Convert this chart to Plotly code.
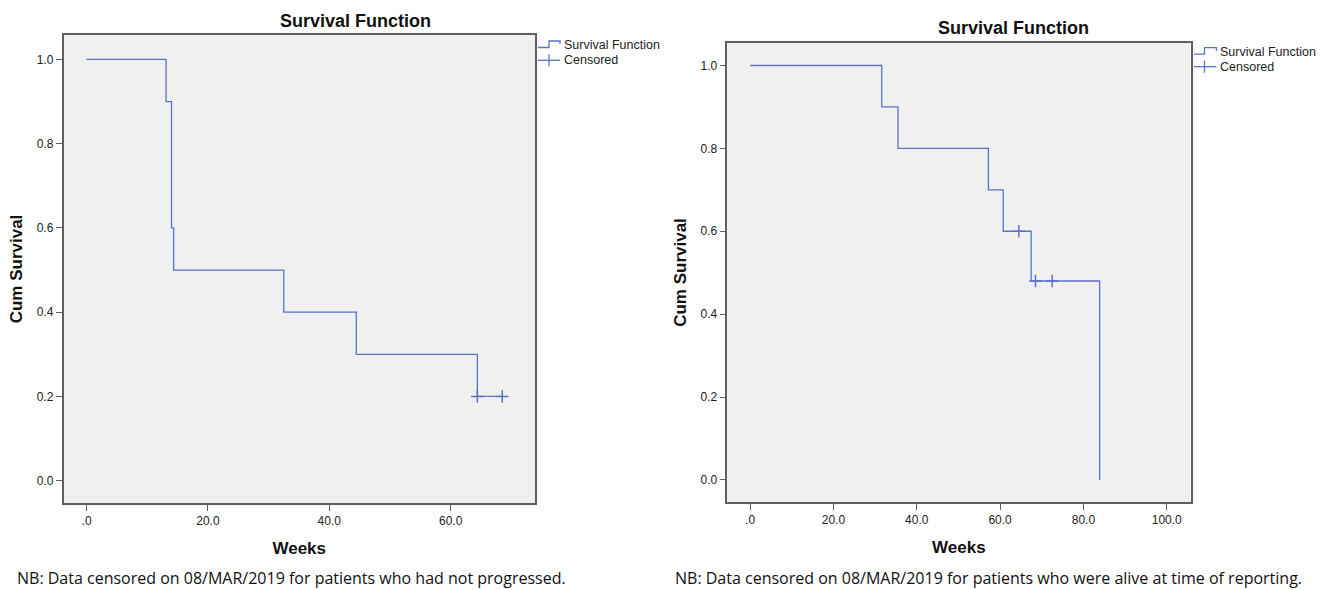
import plotly.graph_objects as go

# ---- data ----
pfs_weeks = [0.0, 13.1, 14.0, 14.35, 32.5, 44.45, 64.4, 68.5]
pfs_surv = [1.0, 0.9, 0.6, 0.5, 0.4, 0.3, 0.2, 0.2]
pfs_cens_weeks = [64.4, 68.5]
pfs_cens_surv = [0.2, 0.2]

os_weeks = [0.0, 31.6, 35.5, 57.2, 60.75, 67.45, 83.9]
os_surv = [1.0, 0.9, 0.8, 0.7, 0.6, 0.48, 0.0]
os_cens_weeks = [64.5, 68.5, 72.5]
os_cens_surv = [0.6, 0.48, 0.48]

pfs_xtickvals = [0, 20, 40, 60]
pfs_xticktext = [".0", "20.0", "40.0", "60.0"]
os_xtickvals = [0, 20, 40, 60, 80, 100]
os_xticktext = [".0", "20.0", "40.0", "60.0", "80.0", "100.0"]
ytickvals = [0.0, 0.2, 0.4, 0.6, 0.8, 1.0]

title_text = "Survival Function"
xtitle = "Weeks"
ytitle = "Cum Survival"
legend_labels = ["Survival Function", "Censored"]
note_left = "NB: Data censored on 08/MAR/2019 for patients who had not progressed."
note_right = "NB: Data censored on 08/MAR/2019 for patients who were alive at time of reporting."

W, H = 1320, 590
LINE = "#5a72c8"
BG = "#f0f0f0"
AX = "#5f5f5f"
FONT = "Liberation Sans, Arial, sans-serif"


def px(x):
    return x / W


def py(y):
    return 1 - y / H


fig = go.Figure()

cross = dict(symbol="cross-thin", size=9, line=dict(color=LINE, width=1.5))

fig.add_trace(go.Scatter(x=pfs_weeks, y=pfs_surv, mode="lines", line_shape="hv",
                         line=dict(color=LINE, width=1.3), name=legend_labels[0],
                         xaxis="x", yaxis="y"))
fig.add_trace(go.Scatter(x=pfs_cens_weeks, y=pfs_cens_surv, mode="markers",
                         marker=cross, name=legend_labels[1], xaxis="x", yaxis="y"))
fig.add_trace(go.Scatter(x=os_weeks, y=os_surv, mode="lines", line_shape="hv",
                         line=dict(color=LINE, width=1.3), name=legend_labels[0],
                         xaxis="x2", yaxis="y2"))
fig.add_trace(go.Scatter(x=os_cens_weeks, y=os_cens_surv, mode="markers",
                         marker=cross, name=legend_labels[1], xaxis="x2", yaxis="y2"))

tickfont = dict(family=FONT, size=12, color="#222222")
titlefont = dict(family=FONT, size=17, color="#111111", weight="bold")

common_x = dict(showgrid=False, zeroline=False, showline=True, mirror=True, linecolor=AX,
                linewidth=1.5, ticks="outside", ticklen=6, tickcolor=AX, tickwidth=1.3,
                tickfont=tickfont, title=dict(text=xtitle, font=titlefont, standoff=15))
common_y = dict(showgrid=False, zeroline=False, showline=True, mirror=True, linecolor=AX,
                linewidth=1.5, ticks="outside", ticklen=6, tickcolor=AX, tickwidth=1.3,
                tickfont=tickfont, tickvals=ytickvals, tickformat=".1f",
                title=dict(text=ytitle, font=titlefont, standoff=10))

annotations = [
    dict(text=f"<b>{title_text}</b>", x=px(355), y=py(21.3), xref="paper", yref="paper",
         showarrow=False, xanchor="center", yanchor="middle",
         font=dict(family=FONT, size=18, color="#111111")),
    dict(text=f"<b>{title_text}</b>", x=px(1013.6), y=py(28.3), xref="paper", yref="paper",
         showarrow=False, xanchor="center", yanchor="middle",
         font=dict(family=FONT, size=18, color="#111111")),
    dict(text=note_left, x=px(15), y=py(578), xref="paper", yref="paper",
         showarrow=False, xanchor="left", yanchor="middle",
         font=dict(family="Open Sans, sans-serif", size=16, color="#111111")),
    dict(text=note_right, x=px(673), y=py(578), xref="paper", yref="paper",
         showarrow=False, xanchor="left", yanchor="middle",
         font=dict(family="Open Sans, sans-serif", size=16, color="#111111")),
]

shapes = []
legfont = dict(family=FONT, size=12.5, color="#222222")
# manual legends (SPSS style): step icon + cross icon
for (x0, x1, xr, y1, y2) in [(538, 560, 549, 45, 60.3), (1194, 1216.5, 1204.5, 51.7, 66.7)]:
    step = (f"M {px(x0)},{py(y1 + 2.5)} L {px(xr)},{py(y1 + 2.5)} L {px(xr)},{py(y1 - 4)} "
            f"L {px(x1)},{py(y1 - 4)} L {px(x1)},{py(y1 - 1)}")
    shapes.append(dict(type="path", path=step, xref="paper", yref="paper",
                       line=dict(color=LINE, width=1.3)))
    shapes.append(dict(type="line", x0=px(x0), x1=px(x1), y0=py(y2), y1=py(y2),
                       xref="paper", yref="paper", line=dict(color=LINE, width=1.3)))
    shapes.append(dict(type="line", x0=px(xr), x1=px(xr), y0=py(y2 - 6), y1=py(y2 + 6),
                       xref="paper", yref="paper", line=dict(color=LINE, width=1.3)))
    for lab, yy in zip(legend_labels, [y1, y2]):
        annotations.append(dict(text=lab, x=px(x1 + 1.5), y=py(yy), xref="paper", yref="paper",
                                showarrow=False, xanchor="left", yanchor="middle", font=legfont))

fig.update_layout(
    width=W, height=H,
    margin=dict(l=0, r=0, t=0, b=0),
    paper_bgcolor="white",
    plot_bgcolor=BG,
    showlegend=False,
    xaxis=dict(common_x, domain=[px(63.5), px(535)], range=[-3.8, 73.9],
               tickvals=pfs_xtickvals, ticktext=pfs_xticktext, anchor="y"),
    yaxis=dict(common_y, domain=[py(503), py(35)], range=[-0.053, 1.058], anchor="x"),
    xaxis2=dict(common_x, domain=[px(727.3), px(1190.5)], range=[-5.47, 105.7],
                tickvals=os_xtickvals, ticktext=os_xticktext, anchor="y2"),
    yaxis2=dict(common_y, domain=[py(502.3), py(42.7)], range=[-0.054, 1.055], anchor="x2"),
    annotations=annotations,
    shapes=shapes,
)

fig.write_html("out.html", config={"displayModeBar": False},
               post_script="document.body.style.margin='0';document.body.style.overflow='hidden';")
